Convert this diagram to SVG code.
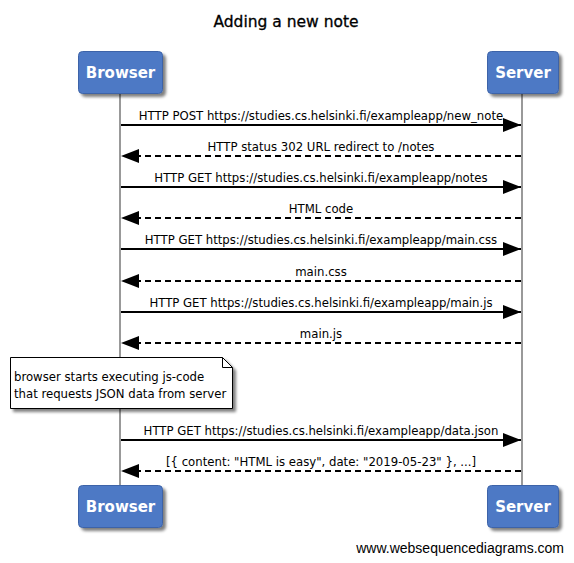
<svg xmlns="http://www.w3.org/2000/svg" width="574" height="563" viewBox="0 0 574 563">
<style>
.actor rect.b{fill:#4e79c5;stroke:#3e64a8;stroke-width:1}
.actor text{font-family:"DejaVu Sans",Verdana,sans-serif;font-size:15px;fill:#fff;text-anchor:middle;font-weight:bold}
.life{stroke:#999;stroke-width:2}
.msg{stroke:#000;stroke-width:2;fill:none}
.dash{stroke-dasharray:6,4}
.lbl{font-family:"DejaVu Sans Condensed","DejaVu Sans",sans-serif;font-size:13px;fill:#000;text-anchor:middle}
.note text{font-family:"DejaVu Sans Condensed","DejaVu Sans",sans-serif;font-size:13px;fill:#000}
</style>
<defs>
<marker id="ahl" viewBox="0 0 18 14" refX="18" refY="7" markerWidth="18" markerHeight="14" markerUnits="userSpaceOnUse" orient="auto">
<path d="M0,0 L18,7 L0,14 z" fill="#000"/>
</marker>
<filter id="sh" x="-20%" y="-20%" width="150%" height="150%">
<feGaussianBlur in="SourceAlpha" stdDeviation="1.5"/>
<feOffset dx="3" dy="3" result="o"/>
<feComponentTransfer><feFuncA type="linear" slope="0.5"/></feComponentTransfer>
<feMerge><feMergeNode/><feMergeNode in="SourceGraphic"/></feMerge>
</filter>
</defs>
<rect width="574" height="563" fill="#fff"/>
<text x="286" y="27" font-family="DejaVu Sans,Verdana,sans-serif" font-size="15.5" text-anchor="middle" fill="#000" stroke="#000" stroke-width="0.3">Adding a new note</text>
<g id="lifelines">
<line class="life" x1="120" y1="93" x2="120" y2="485"/>
<line class="life" x1="522" y1="93" x2="522" y2="485"/>
</g>
<g id="browser-top" class="actor"><rect class="b" x="78.5" y="51.5" width="84" height="42" rx="4" filter="url(#sh)"/><text x="120.5" y="78">Browser</text></g>
<g id="server-top" class="actor"><rect class="b" x="487.5" y="51.5" width="71" height="42" rx="4" filter="url(#sh)"/><text x="523" y="78">Server</text></g>
<g id="browser-bottom" class="actor"><rect class="b" x="78.5" y="485.5" width="84" height="42" rx="4" filter="url(#sh)"/><text x="120.5" y="512">Browser</text></g>
<g id="server-bottom" class="actor"><rect class="b" x="487.5" y="485.5" width="71" height="42" rx="4" filter="url(#sh)"/><text x="523" y="512">Server</text></g>
<g id="connectors">
<line class="msg" x1="121" y1="125" x2="521" y2="125" marker-end="url(#ahl)"/>
<text class="lbl" x="321" y="120">HTTP POST https://studies.cs.helsinki.fi/exampleapp/new_note</text>
<line class="msg dash" x1="521" y1="156" x2="121" y2="156" marker-end="url(#ahl)"/>
<text class="lbl" x="321" y="151">HTTP status 302 URL redirect to /notes</text>
<line class="msg" x1="121" y1="187" x2="521" y2="187" marker-end="url(#ahl)"/>
<text class="lbl" x="321" y="182">HTTP GET https://studies.cs.helsinki.fi/exampleapp/notes</text>
<line class="msg dash" x1="521" y1="218" x2="121" y2="218" marker-end="url(#ahl)"/>
<text class="lbl" x="321" y="213">HTML code</text>
<line class="msg" x1="121" y1="249" x2="521" y2="249" marker-end="url(#ahl)"/>
<text class="lbl" x="321" y="244">HTTP GET https://studies.cs.helsinki.fi/exampleapp/main.css</text>
<line class="msg dash" x1="521" y1="281" x2="121" y2="281" marker-end="url(#ahl)"/>
<text class="lbl" x="321" y="276">main.css</text>
<line class="msg" x1="121" y1="312" x2="521" y2="312" marker-end="url(#ahl)"/>
<text class="lbl" x="321" y="307">HTTP GET https://studies.cs.helsinki.fi/exampleapp/main.js</text>
<line class="msg dash" x1="521" y1="343" x2="121" y2="343" marker-end="url(#ahl)"/>
<text class="lbl" x="321" y="338">main.js</text>
<line class="msg" x1="121" y1="440" x2="521" y2="440" marker-end="url(#ahl)"/>
<text class="lbl" x="321" y="435">HTTP GET https://studies.cs.helsinki.fi/exampleapp/data.json</text>
<line class="msg dash" x1="521" y1="471" x2="121" y2="471" marker-end="url(#ahl)"/>
<text class="lbl" x="321" y="466">[{ content: "HTML is easy", date: "2019-05-23" }, ...]</text>
</g>
<g id="note" class="note">
<path d="M10.5,357.5 H222.5 L232.5,367.5 V408.5 H10.5 Z" fill="#fff" stroke="#000" stroke-width="1" filter="url(#sh)"/>
<path d="M222.5,357.5 V367.5 H232.5" fill="none" stroke="#000" stroke-width="1"/>
<text x="14" y="381">browser starts executing js-code</text>
<text x="14" y="398">that requests JSON data from server</text>
</g>
<text x="564" y="553" font-family="Liberation Sans,Arial,sans-serif" font-size="14" text-anchor="end" fill="#000">www.websequencediagrams.com</text>
</svg>
